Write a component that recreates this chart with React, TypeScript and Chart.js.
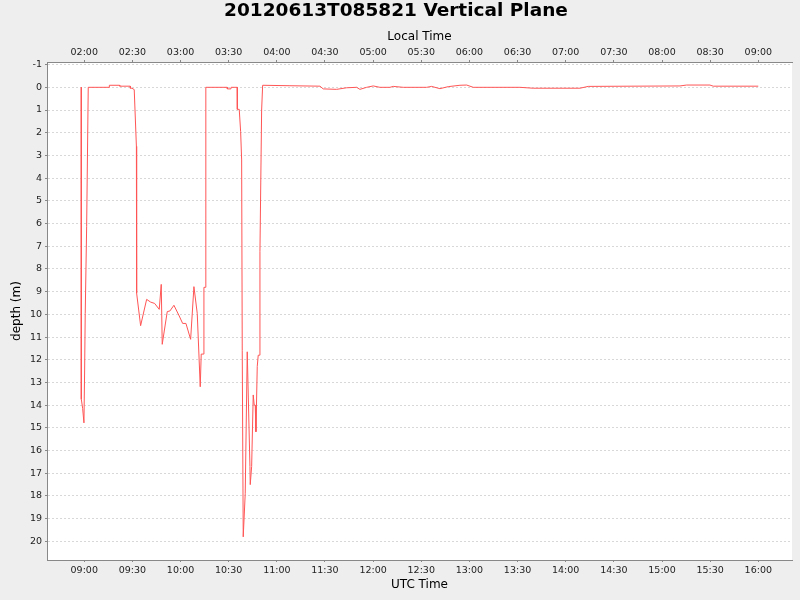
import React, { useEffect, useRef } from "react";
import { Chart, registerables, type ChartConfiguration } from "chart.js";

Chart.register(...registerables);

// =================================================================
// DATA
// =================================================================

const utcTimes = [
  "08:58:08", "08:58:11", "08:59:00", "08:59:49", "09:00:15", "09:00:37", "09:01:30", "09:02:30",
  "09:15:35", "09:15:39", "09:22:04", "09:22:08", "09:28:40", "09:28:44", "09:29:43", "09:31:09",
  "09:32:30", "09:32:39", "09:35:08", "09:38:53", "09:41:22", "09:43:52", "09:46:44", "09:47:59",
  "09:48:36", "09:51:43", "09:53:24", "09:55:53", "09:59:11", "10:01:19", "10:03:22", "10:06:18",
  "10:08:21", "10:10:25", "10:12:17", "10:12:54", "10:14:09", "10:14:35", "10:15:24", "10:15:46",
  "10:29:06", "10:29:10", "10:31:25", "10:31:29", "10:35:20", "10:35:24", "10:36:35", "10:37:27",
  "10:38:05", "10:38:27", "10:39:04", "10:40:19", "10:41:34", "10:43:15", "10:43:26", "10:44:19",
  "10:45:18", "10:45:56", "10:46:33", "10:46:59", "10:47:48", "10:48:25", "10:49:03", "10:49:29",
  "10:50:32", "10:51:10", "11:08:10", "11:26:52", "11:28:55", "11:37:16", "11:43:30", "11:49:44",
  "11:51:47", "11:55:58", "12:00:05", "12:04:15", "12:10:29", "12:12:32", "12:18:46", "12:33:21",
  "12:36:28", "12:41:38", "12:46:49", "12:54:06", "12:58:17", "13:02:23", "13:31:29", "13:39:46",
  "14:08:52", "14:14:02", "15:11:11", "15:15:21", "15:29:52", "15:31:56", "15:59:58",
];

const depths = [
  0, 13.74, 14.14, 14.78, 12.45, 9.96, 6.14, 0,
  0, -0.09, -0.09, -0.05, -0.05, 0.04, 0.04, 0.1,
  2.6, 9.07, 10.5, 9.34, 9.46, 9.52, 9.78, 8.68,
  11.32, 9.88, 9.85, 9.6, 10.07, 10.4, 10.4, 11.1,
  8.78, 9.96, 13.19, 11.75, 11.75, 8.81, 8.81, 0,
  0, 0.07, 0.07, 0, 0, 0.97, 0.97, 1.95,
  3.2, 11.6, 19.8, 17.9, 11.65, 16.7, 17.5, 16.7,
  13.55, 14.0, 14.0, 15.17, 12.3, 11.8, 11.8, 7.24,
  1.0, -0.09, -0.07, -0.05, 0.07, 0.09, 0.02, 0,
  0.09, 0, -0.06, 0, 0, -0.04, 0, 0,
  -0.04, 0.06, -0.03, -0.09, -0.1, 0, 0, 0.04,
  0.04, -0.04, -0.06, -0.1, -0.1, -0.05, -0.05,
];

const utcTickLabels = ["09:00", "09:30", "10:00", "10:30", "11:00", "11:30", "12:00", "12:30",
  "13:00", "13:30", "14:00", "14:30", "15:00", "15:30", "16:00"];
const localTickLabels = ["02:00", "02:30", "03:00", "03:30", "04:00", "04:30", "05:00", "05:30",
  "06:00", "06:30", "07:00", "07:30", "08:00", "08:30", "09:00"];
const depthTicks = [-1, 0, 1, 2, 3, 4, 5, 6, 7, 8, 9, 10, 11, 12, 13, 14, 15, 16, 17, 18, 19, 20];

// axis ranges, minutes since midnight (UTC) and metres
const X_MIN = 516.8;
const X_MAX = 981.0;
const Y_MIN = -1.115;
const Y_MAX = 20.82;

const toMinutes = (t: string) => {
  const [h, m, s] = t.split(":").map(Number);
  return h * 60 + m + (s || 0) / 60;
};

const AXIS_GRAY = "#888888";
const TICK_TEXT = "#222222";

const backgroundPlugin = {
  id: "bgPlot",
  beforeDraw(chart: Chart) {
    const { ctx, chartArea, width, height } = chart;
    ctx.save();
    ctx.fillStyle = "#EEEEEE";
    ctx.fillRect(0, 0, width, height);
    ctx.fillStyle = "#FFFFFF";
    ctx.fillRect(chartArea.left, chartArea.top, chartArea.right - chartArea.left, chartArea.bottom - chartArea.top);
    ctx.restore();
  },
};

const timeTicks = (scale: any) => {
  scale.ticks = utcTickLabels.map((l) => ({ value: toMinutes(l) }));
};

const App: React.FC = () => {
  const canvasRef = useRef<HTMLCanvasElement | null>(null);

  useEffect(() => {
    document.body.style.margin = "0";
    document.body.style.background = "#EEEEEE";
    if (!canvasRef.current) return;

    Chart.defaults.font.family = "'DejaVu Sans', sans-serif";

    const config: ChartConfiguration<"line"> = {
      type: "line",
      data: {
        datasets: [{
          data: utcTimes.map((t, i) => ({ x: toMinutes(t), y: depths[i] })),
          borderColor: "#FF5555",
          borderWidth: 1,
          pointRadius: 0,
          tension: 0,
          fill: false,
        }],
      },
      plugins: [backgroundPlugin],
      options: {
        responsive: false,
        animation: false,
        devicePixelRatio: 1,
        layout: { padding: { left: 0, right: 8, top: 0, bottom: 0 } },
        plugins: {
          legend: { display: false },
          tooltip: { enabled: false },
          title: {
            display: true,
            text: "20120613T085821 Vertical Plane",
            color: "#000000",
            font: { size: 18.5, weight: "bold" },
            padding: { top: 0.5, bottom: 0 },
          },
        },
        scales: {
          x: {
            type: "linear",
            position: "bottom",
            min: X_MIN,
            max: X_MAX,
            afterBuildTicks: timeTicks,
            afterFit: (s: any) => { s.height = 40; },
            ticks: {
              autoSkip: false, maxRotation: 0, padding: 3, color: TICK_TEXT, font: { size: 9.5 },
              callback: (_v: any, i: number) => utcTickLabels[i],
            },
            grid: { drawOnChartArea: false, drawTicks: true, tickLength: 2, tickColor: AXIS_GRAY },
            border: { color: AXIS_GRAY, width: 1 },
            title: { display: true, text: "UTC Time", color: "#000000", font: { size: 12 }, padding: { top: 0, bottom: 8 } },
          },
          x2: {
            type: "linear",
            position: "top",
            min: X_MIN,
            max: X_MAX,
            afterBuildTicks: timeTicks,
            afterFit: (s: any) => { s.height = 39.3; },
            ticks: {
              autoSkip: false, maxRotation: 0, padding: 2, color: TICK_TEXT, font: { size: 9.5 },
              callback: (_v: any, i: number) => localTickLabels[i],
            },
            grid: { drawOnChartArea: false, drawTicks: true, tickLength: 2, tickColor: AXIS_GRAY },
            border: { color: AXIS_GRAY, width: 1 },
            title: { display: true, text: "Local Time", color: "#000000", font: { size: 12 }, padding: { top: 6.5, bottom: 0 } },
          },
          y: {
            type: "linear",
            reverse: true,
            min: Y_MIN,
            max: Y_MAX,
            afterBuildTicks: (s: any) => { s.ticks = depthTicks.map((v) => ({ value: v })); },
            afterFit: (s: any) => { s.width = 47; },
            ticks: {
              autoSkip: false, padding: 3, color: TICK_TEXT, font: { size: 9.5 },
              callback: (v: any) => String(v),
            },
            grid: { color: "#D8D8D8", lineWidth: 1, drawTicks: true, tickLength: 2, tickColor: AXIS_GRAY },
            border: { color: AXIS_GRAY, width: 1, dash: [2, 2] },
            title: { display: true, text: "depth (m)", color: "#000000", font: { size: 12 }, padding: { top: 10, bottom: 0 } },
          },
        },
      },
    };

    const chart = new Chart(canvasRef.current, config);
    return () => chart.destroy();
  }, []);

  return (
    <div style={{ width: 800, height: 600 }}>
      <canvas ref={canvasRef} width={800} height={600} style={{ display: "block" }} />
    </div>
  );
};

export default App;
